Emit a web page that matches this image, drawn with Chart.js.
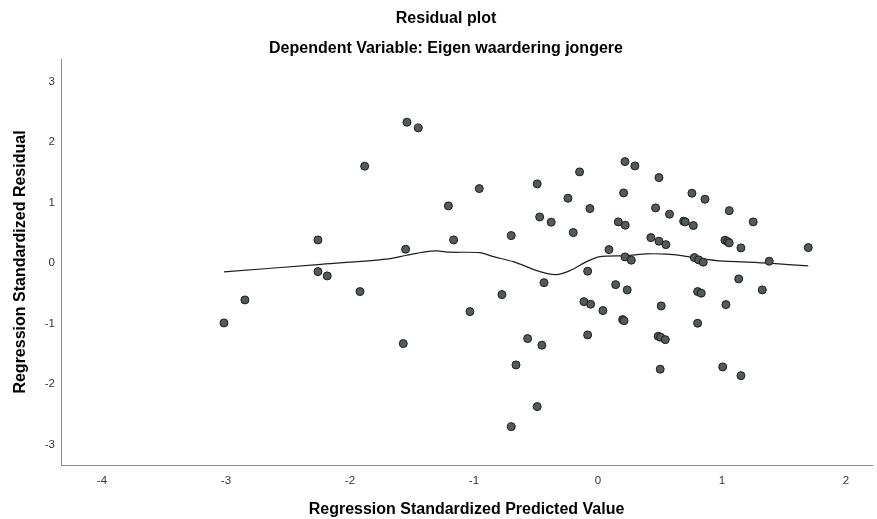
<!DOCTYPE html>
<html>
<head>
<meta charset="utf-8">
<script src="https://cdn.jsdelivr.net/npm/chart.js@4"></script>
<style>
  html, body { margin: 0; padding: 0; background: #ffffff; }
  #wrap { width: 877px; height: 519px; position: relative; }
</style>
</head>
<body>
<div id="wrap"><canvas id="c" width="877" height="519"></canvas></div>
<script>
// ---- data ----
const titleText = "Residual plot";
const subtitleText = "Dependent Variable: Eigen waardering jongere";
const xAxisTitle = "Regression Standardized Predicted Value";
const yAxisTitle = "Regression Standardized Residual";

const xTicks = [-4, -3, -2, -1, 0, 1, 2];
const yTicks = [-3, -2, -1, 0, 1, 2, 3];

const predicted = [
  -3.016, -2.847, -2.258, -2.258, -2.183, -1.919, -1.881, -1.570, -1.551, -1.540,
  -1.449, -1.206, -1.164, -1.032, -0.957, -0.774, -0.699, -0.699, -0.661, -0.567,
  -0.490, -0.490, -0.470, -0.452, -0.435, -0.377, -0.242, -0.199, -0.148, -0.113,
  -0.083, -0.083, -0.065, -0.059, 0.040, 0.089, 0.143, 0.164, 0.199, 0.210,
  0.207, 0.218, 0.218, 0.220, 0.236, 0.269, 0.298, 0.427, 0.465, 0.486,
  0.492, 0.492, 0.502, 0.506, 0.510, 0.543, 0.548, 0.577, 0.691, 0.704,
  0.758, 0.769, 0.777, 0.804, 0.804, 0.812, 0.833, 0.849, 0.863, 1.006,
  1.024, 1.032, 1.046, 1.059, 1.059, 1.135, 1.153, 1.153, 1.252, 1.325,
  1.381, 1.696
];
const residual = [
  -0.992, -0.612, 0.380, -0.144, -0.215, -0.474, 1.598, -1.334, 0.226, 2.326,
  2.231, 0.942, 0.380, -0.805, 1.228, -0.524, 0.451, -2.706, -1.686, -1.251,
  1.306, -2.375, 0.760, -1.360, -0.326, 0.673, 1.069, 0.501, 1.504, -0.640,
  -0.137, -1.190, 0.898, -0.683, -0.788, 0.220, -0.359, 0.678, -0.937, -0.954,
  1.157, 1.674, 0.099, 0.623, -0.446, 0.045, 1.603, 0.418, 0.909, -1.212,
  1.410, 0.359, -1.757, -1.228, -0.711, -1.268, 0.302, 0.805, 0.689, 0.678,
  1.152, 0.617, 0.088, -0.474, -0.997, 0.050, -0.501, 0.012, 1.053, -1.719,
  0.375, -0.689, 0.352, 0.864, 0.331, -0.264, 0.248, -1.863, 0.678, -0.446,
  0.028, 0.253
];

// fit line (loess)
const fitX = [-3.016, -2.258, -1.704, -1.543, -1.381, -1.301, -1.194, -0.952, -0.844, -0.683,
              -0.468, -0.341, -0.226, -0.091, 0.016, 0.231, 0.393, 0.554, 0.688, 0.796,
              0.957, 1.381, 1.696];
const fitY = [-0.149, -0.028, 0.061, 0.127, 0.187, 0.198, 0.177, 0.170, 0.104, 0.021,
              -0.144, -0.193, -0.127, 0.021, 0.104, 0.121, 0.149, 0.145, 0.116, 0.078,
              0.038, -0.005, -0.050];

// ---- chart ----
const FONT = "'Liberation Sans', Arial, Helvetica, sans-serif";

const titlePlugin = {
  id: 'twoTitles',
  afterDraw(chart) {
    const ctx = chart.ctx;
    ctx.save();
    ctx.fillStyle = '#000000';
    ctx.textAlign = 'center';
    ctx.textBaseline = 'middle';
    ctx.font = "bold 16px " + FONT;
    ctx.fillText(titleText, 446, 19);
    ctx.fillText(subtitleText, 446, 49);
    ctx.restore();
  }
};

const scatterData = predicted.map((x, i) => ({ x: x, y: residual[i] }));
const fitData = fitX.map((x, i) => ({ x: x, y: fitY[i] }));

new Chart(document.getElementById('c'), {
  type: 'scatter',
  data: {
    datasets: [
      {
        type: 'line',
        data: fitData,
        borderColor: '#1e1e1e',
        borderWidth: 1.2,
        pointRadius: 0,
        fill: false,
        tension: 0.25,
        order: 2
      },
      {
        type: 'scatter',
        data: scatterData,
        backgroundColor: '#535b58',
        borderColor: '#1c1c1c',
        borderWidth: 1,
        pointRadius: 4,
        pointHoverRadius: 4,
        order: 1
      }
    ]
  },
  options: {
    responsive: false,
    animation: false,
    layout: { padding: { top: 59, left: 0, right: 0, bottom: 0 } },
    plugins: {
      legend: { display: false },
      tooltip: { enabled: false },
      title: { display: false }
    },
    scales: {
      x: {
        type: 'linear',
        min: -4.33,
        max: 2.21,
        afterBuildTicks(scale) { scale.ticks = xTicks.map(v => ({ value: v })); },
        afterFit(scale) { scale.height = 54; },
        grid: { display: false, drawTicks: false },
        border: { display: true, color: '#8c8c8c', width: 1 },
        ticks: {
          padding: 9,
          color: '#333333',
          font: { family: FONT, size: 11.5 },
          maxRotation: 0,
          autoSkip: false
        },
        title: {
          display: true,
          text: xAxisTitle,
          color: '#000000',
          font: { family: FONT, size: 16, weight: 'bold' },
          padding: { top: 0, bottom: 0 }
        }
      },
      y: {
        type: 'linear',
        min: -3.34,
        max: 3.37,
        afterBuildTicks(scale) { scale.ticks = yTicks.map(v => ({ value: v })); },
        afterFit(scale) { scale.width = 61; },
        grid: { display: false, drawTicks: false },
        border: { display: true, color: '#8c8c8c', width: 1 },
        ticks: {
          padding: 6,
          color: '#333333',
          font: { family: FONT, size: 11.5 },
          autoSkip: false
        },
        title: {
          display: true,
          text: yAxisTitle,
          color: '#000000',
          font: { family: FONT, size: 16, weight: 'bold' },
          padding: { top: 11, bottom: 0 }
        }
      }
    }
  },
  plugins: [titlePlugin]
});
</script>
</body>
</html>
